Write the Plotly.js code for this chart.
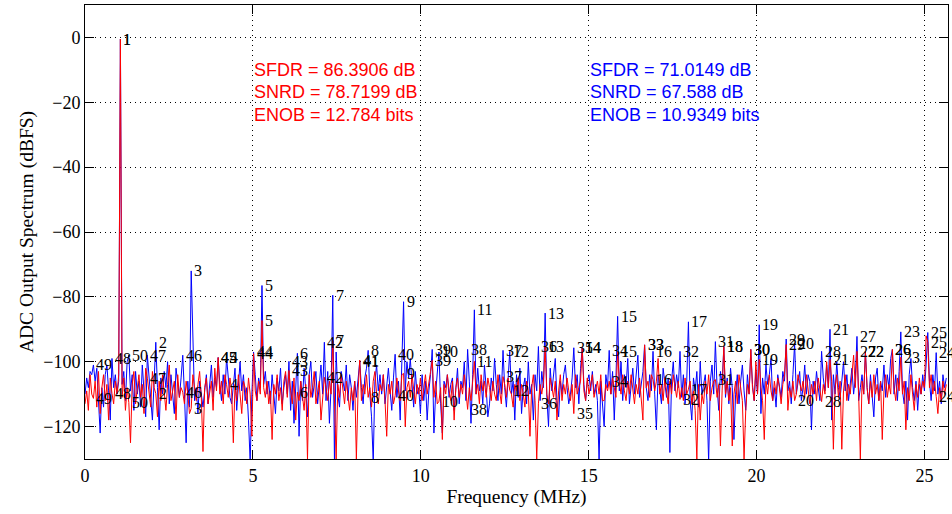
<!DOCTYPE html>
<html>
<head>
<meta charset="utf-8">
<script src="https://cdn.plot.ly/plotly-3.0.1.min.js"></script>
<style>
html,body{margin:0;padding:0;background:#fff;}
#chart{width:952px;height:514px;}
</style>
</head>
<body>
<div id="chart"></div>
<script>
// Spectrum bin width (MHz): 512 bins spanning 0 .. Nyquist
const binWidthMHz = 25.7 / 512;

// Blue series (dBFS), one value per bin
const blueDb = [
/*0*/   -110,-105,-108,-103,-104,-101,-106,-102,-112,-122,-108,-114,-104,-101,-109,-118,
/*16*/  -99,-108,-104,-110,-106,-0.5,-107,-103,-112,-100,-98,-109,-104,-115,-103,-110,
/*32*/  -106,-114,-101,-110,-117,-98,-104,-112,-118,-106,-94,-108,-121,-105,-110,-103,
/*48*/  -108,-100,-113,-104,-109,-116,-102,-107,-111,-105,-98,-110,-125,-106,-114,-72,
/*64*/  -95,-112,-108,-116,-106,-110,-114,-109,-104,-113,-107,-101,-111,-105,-108,-98.7,
/*80*/  -107,-112,-104,-110,-98.7,-106,-111,-113,-108,-102,-115,-106,-100,-109,-104,-112,
/*96*/  -108,-118,-131,-110,-97,-104,-112,-105,-108,-76.5,-107,-103,-110,-106,-113,-104,
/*112*/ -111,-116,-105,-109,-102,-113,-108,-104,-110,-99.9,-115,-106,-119,-108,-97.4,-123,
/*128*/ -106,-112,-102,-109,-117,-104,-100,-111,-106,-103,-113,-108,-101,-110,-94,-112,
/*144*/ -103,-119,-108,-79.5,-131,-97,-110,-114,-103,-106,-109,-101,-112,-104,-108,-115,
/*160*/ -106,-111,-104,-99.9,-108,-113,-105,-102,-96.5,-110,-117,-131,-106,-101,-109,-104,
/*176*/ -110,-104,-113,-107,-102,-109,-115,-105,-97.7,-111,-106,-118,-103,-81.5,-109,-100,
/*192*/ -105,-99,-107,-114,-103,-110,-108,-116,-104,-112,-106,-118,-109,-104,-96.2,-122,
/*208*/ -110,-103,-97,-113,-122,-106,-108,-104,-111,-107,-105,-115,-109,-102,-113,-106,
/*224*/ -108,-100,-112,-96.2,-106,-119,-104,-84,-110,-102,-109,-106,-113,-101,-108,-117,
/*240*/ -113,-105,-109,-99,-107,-112,-104,-110,-96.5,-108,-114,-103,-96.8,-110,-106,-118,
/*256*/ -104,-111,-102,-116,-108,-105,-113,-100,-110,-107,-118,-104,-109,-95.3,-112,-103,
/*272*/ -108,-85,-111,-120,-102,-109,-104,-99,-112,-117,-106,-110,-104,-101,-108,-113,
/*288*/ -110,-105,-95.7,-108,-104,-113,-102,-95.7,-107,-112,-106,-104,-109,-103,-110,-107,
/*304*/ -112,-131,-106,-113,-120,-104,-108,-96.5,-110,-103,-118,-105,-86,-109,-100,-112,
/*320*/ -104,-108,-99,-113,-106,-102,-110,-105,-98,-111,-107,-103,-94.8,-108,-112,-104,
/*336*/ -109,-96.8,-110,-121,-104,-108,-113,-102,-107,-111,-105,-128,-106,-100,-109,-104,
/*352*/ -108,-96.8,-111,-104,-113,-106,-87.7,-112,-118,-105,-109,-103,-114,-100,-110,-107,
/*368*/ -104,-112,-131,-106,-101,-110,-93.8,-108,-115,-103,-107,-95.3,-111,-105,-113,-102,
/*384*/ -108,-124,-110,-104,-113,-106,-101,-109,-115,-104,-110,-96.2,-107,-112,-103,-110,
/*400*/ -88.6,-116,-105,-110,-101,-107,-104,-99,-112,-108,-114,-104,-107,-111,-103,-106,
/*416*/ -93,-109,-106,-113,-104,-94.4,-110,-107,-103,-112,-108,-101,-110,-104,-106,-121,
/*432*/ -106,-110,-103,-108,-112,-96.8,-105,-109,-101,-108,-90,-118,-104,-110,-100,-108,
/*448*/ -111,-106,-100,-109,-104,-112,-107,-102,-110,-105,-92.2,-112,-108,-104,-110,-96.8,
/*464*/ -108,-113,-104,-110,-117,-105,-102,-112,-106,-109,-101,-111,-104,-108,-99,-96.2,
/*480*/ -110,-104,-112,-103,-90.8,-109,-113,-106,-118,-104,-99,-108,-112,-106,-115,-107,
/*496*/ -110,-104,-109,-101,-91,-106,-112,-104,-109,-97.2,-110,-106,-113,-104,-108,-105
];

// Red series (dBFS), one value per bin
const redDb = [
/*0*/   -113,-109,-115,-104,-110,-111.3,-106,-114,-103,-116,-108,-104,-112,-107,-118,-105,
/*16*/  -109.8,-113,-106,-110,-104,-0.5,-111,-105,-115,-108,-112.6,-125,-107,-103,-113,-109,
/*32*/  -104,-111,-107,-116,-102,-105.1,-110,-114,-103,-108,-109.8,-117,-106,-112,-104,-110,
/*48*/  -115,-107,-101,-112,-109,-106,-118,-104,-111,-108,-109.4,-113,-106,-110,-116,-114.4,
/*64*/  -104,-109,-112,-107,-103,-111,-127.7,-108,-105,-113,-110,-106,-115,-102,-109,-98.7,
/*80*/  -110,-106,-113,-104,-107,-111,-105,-109,-125,-107,-112,-104,-110,-116,-106,-108,
/*96*/  -113,-105,-110,-123,-97.5,-109,-112,-106,-110,-87.3,-108,-111,-106,-113,-109,-124,
/*112*/ -107,-110,-104,-112,-108,-115,-106,-103,-111,-102.7,-109,-113,-105,-118,-109.4,-112,
/*128*/ -106,-110,-115,-107,-130,-104,-111,-108,-103,-113,-109,-106,-118,-110,-104.8,-108,
/*144*/ -112,-106,-110,-93.5,-115,-130,-107,-111,-104,-109,-113,-106,-110,-115,-108,-112,
/*160*/ -106,-130,-109,-99.5,-112,-107,-110,-104,-111,-108,-114,-106,-103,-110,-113,-107,
/*176*/ -109,-104,-112,-123,-107,-110,-106,-113,-110.5,-105,-109,-112,-104,-103.6,-120,-108,
/*192*/ -106,-111,-104,-109,-113,-107,-110,-105,-112,-108,-104,-110,-107,-103,-99.6,-111,
/*208*/ -106,-113,-112.2,-108,-124,-107,-110,-104,-109,-112,-106,-118,-108,-105,-111,-107,
/*224*/ -110,-104,-109,-114.7,-108,-112,-106,-99.9,-110,-107,-113,-104,-109,-106,-111,-105,
/*240*/ -108,-112,-106,-110,-112,-104,-109,-113,-104.6,-107,-111,-105,-108.8,-110,-114,-107,
/*256*/ -109,-105,-112,-107,-110,-114,-106,-109,-123,-108,-104,-112,-130,-113,-107,-110,
/*272*/ -106,-95.3,-110,-113,-105,-108,-111,-106,-118,-109,-104,-112,-107,-110,-105,-109,
/*288*/ -112,-107,-116,-104,-110,-108,-106,-95.7,-109,-112,-105,-110,-107,-104,-111,-108,
/*304*/ -106,-110,-104,-112,-112,-107,-109,-106,-110,-105,-108,-111,-97,-106,-110,-104,
/*320*/ -109,-112,-106,-110,-104,-108,-113,-107,-110,-105,-112,-118,-94.8,-108,-106,-111,
/*336*/ -104,-105.5,-109,-106,-99,-110,-107,-112,-105,-109,-113,-106,-110,-104,-108,-111,
/*352*/ -106,-111.6,-108,-112,-105,-110,-108.5,-106,-113,-109,-115,-130,-107,-118,-110,-113,
/*368*/ -106,-110,-104,-112,-108,-106,-105.5,-111,-107,-126,-109,-95.3,-110,-106,-112,-108,
/*384*/ -126,-110,-106,-113,-104,-109,-112,-130,-115,-107,-110,-96.2,-108,-112,-100,-110,
/*400*/ -99.3,-108,-112,-124,-106,-110,-104,-109,-112,-106,-110,-105,-108,-113,-107,-104,
/*416*/ -94.7,-115,-108,-111,-106,-112,-110,-104,-107,-109,-106,-111,-104,-108,-113,-107,
/*432*/ -110,-106,-112,-105,-109,-112.3,-107,-110,-100,-108,-99.3,-106,-127,-108,-104,-111,
/*448*/ -106,-127,-109,-104,-112,-107,-110,-103,-98,-108,-96.8,-110,-130,-106,-110,-96.8,
/*464*/ -108,-113,-106,-111,-104,-110,-107,-112,-106,-124,-109,-104,-111,-107,-110,-96.2,
/*480*/ -108,-112,-105,-109,-98.6,-110,-106,-121,-108,-112,-104,-110,-115,-107,-111,-105,
/*496*/ -110,-106,-108,-92,-94,-108,-104,-110,-106,-110.7,-116,-108,-112,-106,-110,-107
];

// Harmonic orders and the spectrum bin where each (aliased) harmonic falls
const harmonicOrder = [1,2,3,4,5,6,7,8,9,10,11,12,13,14,15,16,17,18,19,20,21,22,23,24,25,
                       26,27,28,29,30,31,32,33,34,35,36,37,38,39,40,41,42,43,44,45,46,47,48,49,50];
const harmonicBin = [21,42,63,84,105,126,147,168,189,210,231,252,273,295,316,337,358,379,400,421,
                     442,463,484,505,500,479,458,437,416,395,374,353,332,311,290,269,248,227,206,184,
                     163,142,121,100,79,58,37,16,5,26];

// Performance summaries
const redStats = ['SFDR = 86.3906 dB', 'SNRD = 78.7199 dB', 'ENOB = 12.784 bits'];
const blueStats = ['SFDR = 71.0149 dB', 'SNRD = 67.588 dB', 'ENOB = 10.9349 bits'];
const statsY = [-10.05, -16.8, -23.9];
const redStatsX = 5.0;
const blueStatsX = 15.0;

// Axis ticks
const xTicks = [0, 5, 10, 15, 20, 25];
const yTicks = [0, -20, -40, -60, -80, -100, -120];

const serif = 'Liberation Serif, Times New Roman, serif';
const sans = 'Liberation Sans, Arial, sans-serif';

const traces = [
  {type: 'scatter', mode: 'lines', x0: 0, dx: binWidthMHz, y: blueDb,
   line: {color: '#0000ff', width: 1}, hoverinfo: 'skip'},
  {type: 'scatter', mode: 'lines', x0: 0, dx: binWidthMHz, y: redDb,
   line: {color: '#ff0000', width: 1}, hoverinfo: 'skip'}
];

const annotations = [];
function addLabel(series, k) {
  const bin = harmonicBin[k];
  annotations.push({
    x: bin * binWidthMHz, y: series[bin], xref: 'x', yref: 'y',
    text: String(harmonicOrder[k]), showarrow: false,
    xanchor: 'left', yanchor: 'middle', xshift: 2, borderpad: 0,
    font: {family: serif, size: 16, color: '#000'}
  });
}
for (let k = 0; k < harmonicOrder.length; k++) {
  addLabel(blueDb, k);
  addLabel(redDb, k);
}
redStats.forEach((t, i) => annotations.push({
  x: redStatsX, y: statsY[i], xref: 'x', yref: 'y', text: t, showarrow: false,
  xanchor: 'left', yanchor: 'middle', borderpad: 0,
  font: {family: sans, size: 18, color: '#ff0000'}
}));
blueStats.forEach((t, i) => annotations.push({
  x: blueStatsX, y: statsY[i], xref: 'x', yref: 'y', text: t, showarrow: false,
  xanchor: 'left', yanchor: 'middle', borderpad: 0,
  font: {family: sans, size: 18, color: '#0000ff'}
}));

const axisCommon = {
  ticks: 'inside', ticklen: 9, tickwidth: 1, tickcolor: '#000',
  showline: true, linecolor: '#000', linewidth: 1, mirror: 'ticks',
  showgrid: true, gridcolor: '#000', gridwidth: 1, griddash: '1px,4px',
  zeroline: false, tickfont: {family: serif, size: 18, color: '#000'}
};

const layout = {
  width: 952, height: 514,
  margin: {l: 85, r: 4, t: 5, b: 55, pad: 0},
  paper_bgcolor: '#ffffff', plot_bgcolor: '#ffffff',
  showlegend: false,
  font: {family: serif, size: 18, color: '#000'},
  xaxis: Object.assign({}, axisCommon, {
    range: [0, 25.7], tickmode: 'array', tickvals: xTicks, ticktext: xTicks.map(String),
    title: {text: 'Frequency (MHz)', font: {family: serif, size: 19.5, color: '#000'}, standoff: 3}
  }),
  yaxis: Object.assign({}, axisCommon, {
    range: [-130, 10], tickmode: 'array', tickvals: yTicks,
    title: {text: 'ADC Output Spectrum (dBFS)', font: {family: serif, size: 19.5, color: '#000'}, standoff: 4}
  }),
  annotations: annotations
};

Plotly.newPlot('chart', traces, layout, {displayModeBar: false, staticPlot: true});
</script>
</body>
</html>
